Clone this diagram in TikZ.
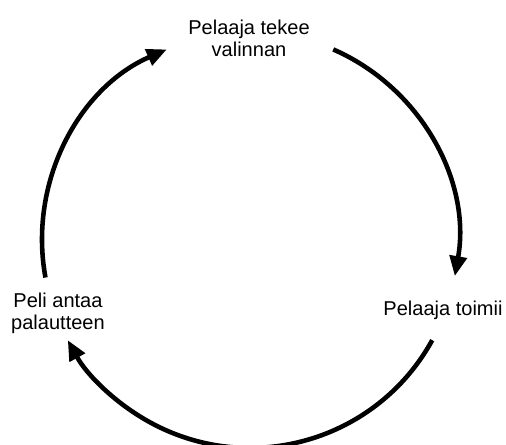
\documentclass[tikz,border=0pt]{standalone}
\usepackage{fontspec}
\setmainfont{Liberation Sans}
\usetikzlibrary{positioning,arrows.meta}

\begin{document}
\begin{tikzpicture}[
  x=0.02cm, y=-0.02cm,
  lbl/.style={font=\fontsize{11.4}{12.4}\selectfont, align=center, inner sep=0pt},
  loop/.style={line width=2.6pt, -{Triangle[length=0.4cm, width=0.34cm]}}
]
% Frame: 1 unit = 1 pixel of the 506x445 image
\useasboundingbox (0,0) rectangle (506,445);
\def\R{4.16cm}  % radius of the cycle

\coordinate (mid) at (250,240);

% Stages
\node[lbl] (choice) at (249,38) {Pelaaja tekee\\valinnan};
\node[lbl] (act) at (443,310) {Pelaaja toimii};
\node[lbl] (feedback) at (58,313) {Peli antaa\\palautteen};

% Arcs, clockwise
\draw[loop] (mid) ++(66.4:\R) arc[start angle=66.4, end angle=-10, radius=\R];
\draw[loop] (mid) ++(-28.8:\R) arc[start angle=-28.8, end angle=-151.2, radius=\R];
\draw[loop] (mid) ++(190.4:\R) arc[start angle=190.4, end angle=113.6, radius=\R];
\end{tikzpicture}
\end{document}
